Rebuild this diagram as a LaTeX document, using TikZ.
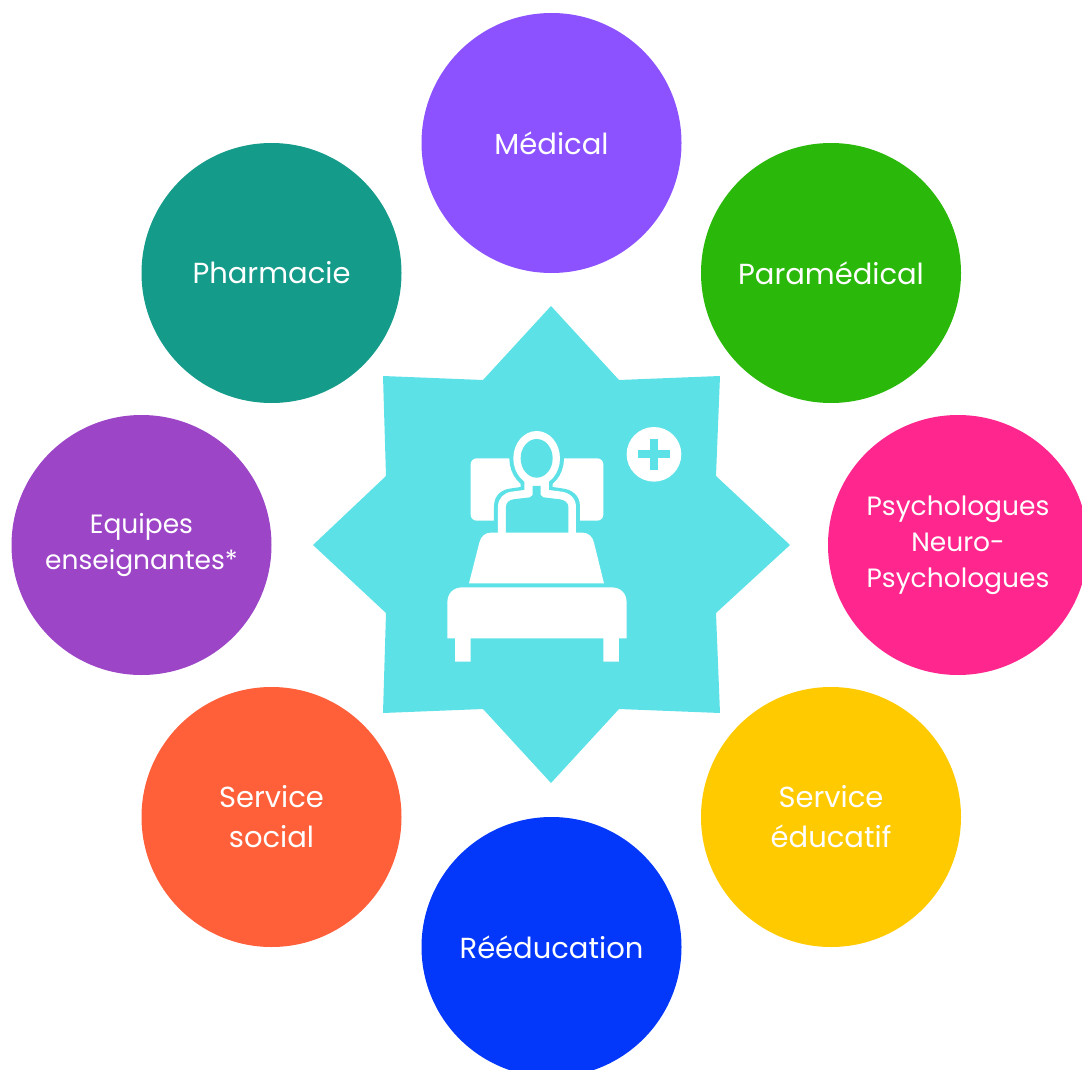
\documentclass[tikz,border=0pt]{standalone}
\usepackage{fontspec}
\setmainfont{Poppins}
\definecolor{starcol}{HTML}{5CE1E6}
\begin{document}
\begin{tikzpicture}[x=1pt, y=-1pt, pole/.style={circle,minimum size=260pt,inner sep=0pt,text=white,align=center,font=\fontsize{29}{40}\selectfont}, polesmall/.style={pole,font=\fontsize{26.5}{36}\selectfont}, halo/.style={draw=starcol,line width=8pt,line join=round}]
       \useasboundingbox (0, 0) rectangle (1082, 1070);
       \clip (0, 0) rectangle (1082, 1070);
       \node[pole, fill={rgb,255:red,140;green,82;blue,255}] (medical) at (551.5, 143) {Médical};
       \node[pole, fill={rgb,255:red,42;green,185;blue,10}] (paramedical) at (831, 273) {Paramédical};
       \node[polesmall, fill={rgb,255:red,255;green,38;blue,141}] (psycho) at (958, 545) {Psychologues\\Neuro-\\Psychologues};
       \node[pole, fill={rgb,255:red,255;green,202;blue,0}] (educatif) at (831, 817) {Service\\éducatif};
       \node[pole, fill={rgb,255:red,3;green,55;blue,250}] (reeducation) at (551.5, 947) {Rééducation};
       \node[pole, fill={rgb,255:red,255;green,96;blue,58}] (social) at (271.5, 817) {Service\\social};
       \node[polesmall, fill={rgb,255:red,156;green,70;blue,199}] (equipes) at (141.5, 545) {Equipes\\enseignantes*};
       \node[pole, fill={rgb,255:red,20;green,155;blue,138}] (pharmacie) at (271.5, 273) {Pharmacie};

       \fill[starcol] (551,306) -- (619,380) -- (720,376) -- (716,476) -- (790,545) -- (716,613) -- (720,713) -- (619,709) -- (551,783) -- (483,709) -- (383,713) -- (386,613) -- (313,545) -- (386,476) -- (383,376) -- (483,380) -- cycle;

       % icon, in thirds of a pixel
       \begin{scope}[shift={(430,410)}, x=0.3333pt, y=-0.3333pt]
         \fill[white, rounded corners=6pt] (122,145) rectangle (520,332);
         \path[fill=starcol] (192,340) -- (192,290) .. controls (192,255) and (215,238) .. (245,235) -- (272,231) -- (272,200) -- (368,200) -- (368,231) -- (395,235) .. controls (425,238) and (450,255) .. (450,290) -- (450,340) -- cycle;
         \draw[halo, fill=white] (320,145) ellipse [x radius=70, y radius=82];
         \fill[white] (204,370) -- (204,290) .. controls (204,265) and (222,248) .. (245,245) -- (283,240) -- (283,210) -- (357,210) -- (357,240) -- (395,245) .. controls (418,248) and (438,265) .. (438,290) -- (438,370) -- cycle;
         \fill[white] (320,145) ellipse [x radius=70, y radius=82];
         \fill[starcol] (320,145) ellipse [x radius=48, y radius=58];
         \fill[starcol] (228,370) -- (228,290) .. controls (228,278) and (238,270) .. (250,268) -- (300,262) -- (308,255) -- (308,228) -- (332,228) -- (332,255) -- (340,262) -- (390,268) .. controls (403,270) and (415,278) .. (415,290) -- (415,370) -- cycle;
         \fill[white] (117,520) -- (148,398) .. controls (152,380) and (165,368) .. (182,368) -- (458,368) .. controls (475,368) and (488,380) .. (492,398) -- (522,520) -- cycle;
         \fill[white] (52,685) -- (52,578) .. controls (52,550) and (70,532) .. (98,532) -- (544,532) .. controls (572,532) and (590,550) .. (590,578) -- (590,685) -- (567,685) -- (567,755) -- (520,755) -- (520,685) -- (122,685) -- (122,755) -- (75,755) -- (75,685) -- cycle;
         \fill[white] (672,133) circle [radius=82];
         \fill[starcol] (660,87) rectangle (685,180);
         \fill[starcol] (625,120) rectangle (720,145);
       \end{scope}
     \end{tikzpicture}
\end{document}
